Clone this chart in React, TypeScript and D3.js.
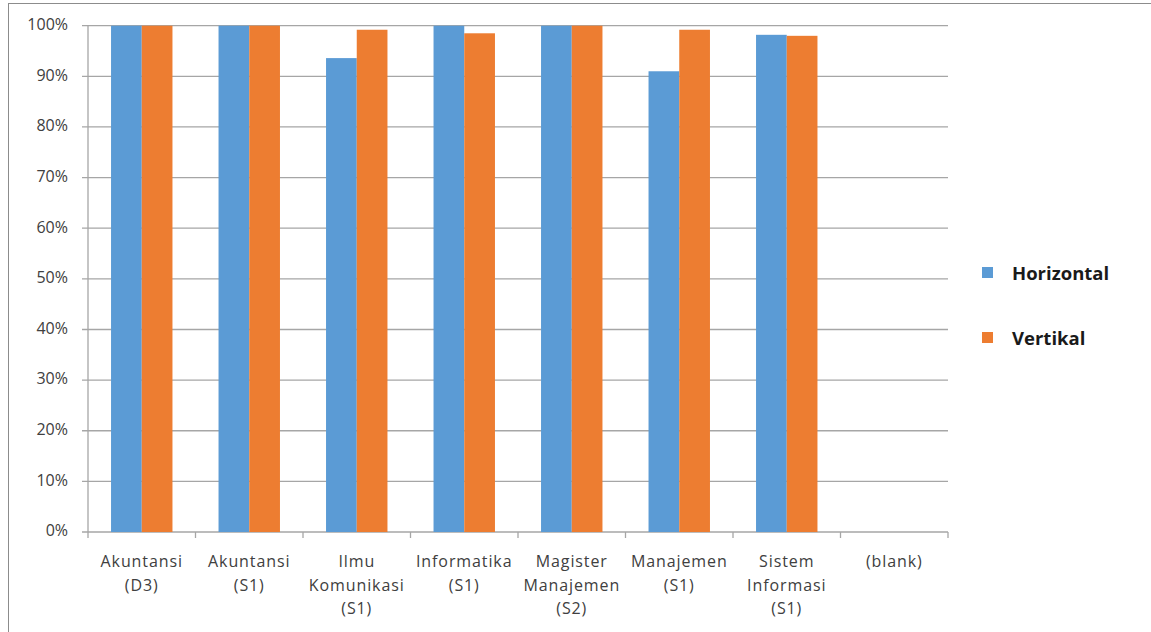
import * as d3 from 'd3';

const categories = [
  ['Akuntansi', '(D3)'],
  ['Akuntansi', '(S1)'],
  ['Ilmu', 'Komunikasi', '(S1)'],
  ['Informatika', '(S1)'],
  ['Magister', 'Manajemen', '(S2)'],
  ['Manajemen', '(S1)'],
  ['Sistem', 'Informasi', '(S1)'],
  ['(blank)'],
];
const horizontal = [1, 1, 0.936, 1, 1, 0.91, 0.982, null];
const vertikal = [1, 1, 0.992, 0.985, 1, 0.992, 0.98, null];
const seriesNames = ['Horizontal', 'Vertikal'];
const colors = ['#5B9BD5', '#ED7D31'];
const yTicks = d3.range(0, 1.01, 0.1);

export default function App() {
  const width = 1151;
  const height = 632;
  const left = 88;
  const right = 948;
  const top = 25.7;
  const bottom = 532;

  const x = d3.scaleBand<number>()
    .domain(d3.range(categories.length))
    .range([left, right]);
  const y = d3.scaleLinear().domain([0, 1]).range([bottom, top]);
  // gap width 150%: two bars plus 1.5 bar widths of space per category
  const bw = x.bandwidth() / 3.5;
  const series = [horizontal, vertikal];
  const font = "'Open Sans', 'DejaVu Sans', sans-serif";

  return (
    <div style={{ position: 'absolute', left: 0, top: 0 }}>
      <svg width={width} height={height} style={{ display: 'block' }}>
        <rect x={0} y={0} width={width} height={height} fill="#fff" />
        <rect x={8.5} y={3.5} width={1300} height={800} fill="none" stroke="#8c8c8c" strokeWidth={1} />
        {yTicks.map(t => (
          <g key={t}>
            <line x1={left - 6} x2={right} y1={y(t)} y2={y(t)} stroke="#a6a6a6" strokeWidth={1.3} />
            <text x={68} y={y(t)} textAnchor="end" dominantBaseline="middle" fontSize={16}
              fontFamily={font} fill="#404040">{d3.format('.0%')(t)}</text>
          </g>
        ))}
        <line x1={left} x2={left} y1={top} y2={bottom} stroke="#a6a6a6" strokeWidth={1.3} />
        {d3.range(categories.length + 1).map(i => {
          const xx = i < categories.length ? x(i)! : right;
          return <line key={i} x1={xx} x2={xx} y1={bottom} y2={bottom + 6} stroke="#a6a6a6" strokeWidth={1.3} />;
        })}
        {series.map((s, si) =>
          s.map((v, i) => v == null ? null : (
            <rect key={`${si}-${i}`} x={x(i)! + bw * 0.75 + si * bw}
              y={y(v)} width={bw} height={y(0) - y(v)} fill={colors[si]} />
          ))
        )}
        {categories.map((lines, i) => (
          <text key={i} textAnchor="middle" fontSize={16} letterSpacing={0.9} fontFamily={font} fill="#404040">
            {lines.map((l, li) => (
              <tspan key={li} x={x(i)! + x.bandwidth() / 2} y={567 + li * 23.5}>{l}</tspan>
            ))}
          </text>
        ))}
        {seriesNames.map((n, i) => (
          <g key={n}>
            <rect x={982} y={267 + i * 65} width={11} height={11} fill={colors[i]} />
            <text x={1012} y={280 + i * 65} fontSize={18.5} fontWeight="bold" fontFamily={font} fill="#1a1a1a">{n}</text>
          </g>
        ))}
      </svg>
    </div>
  );
}
